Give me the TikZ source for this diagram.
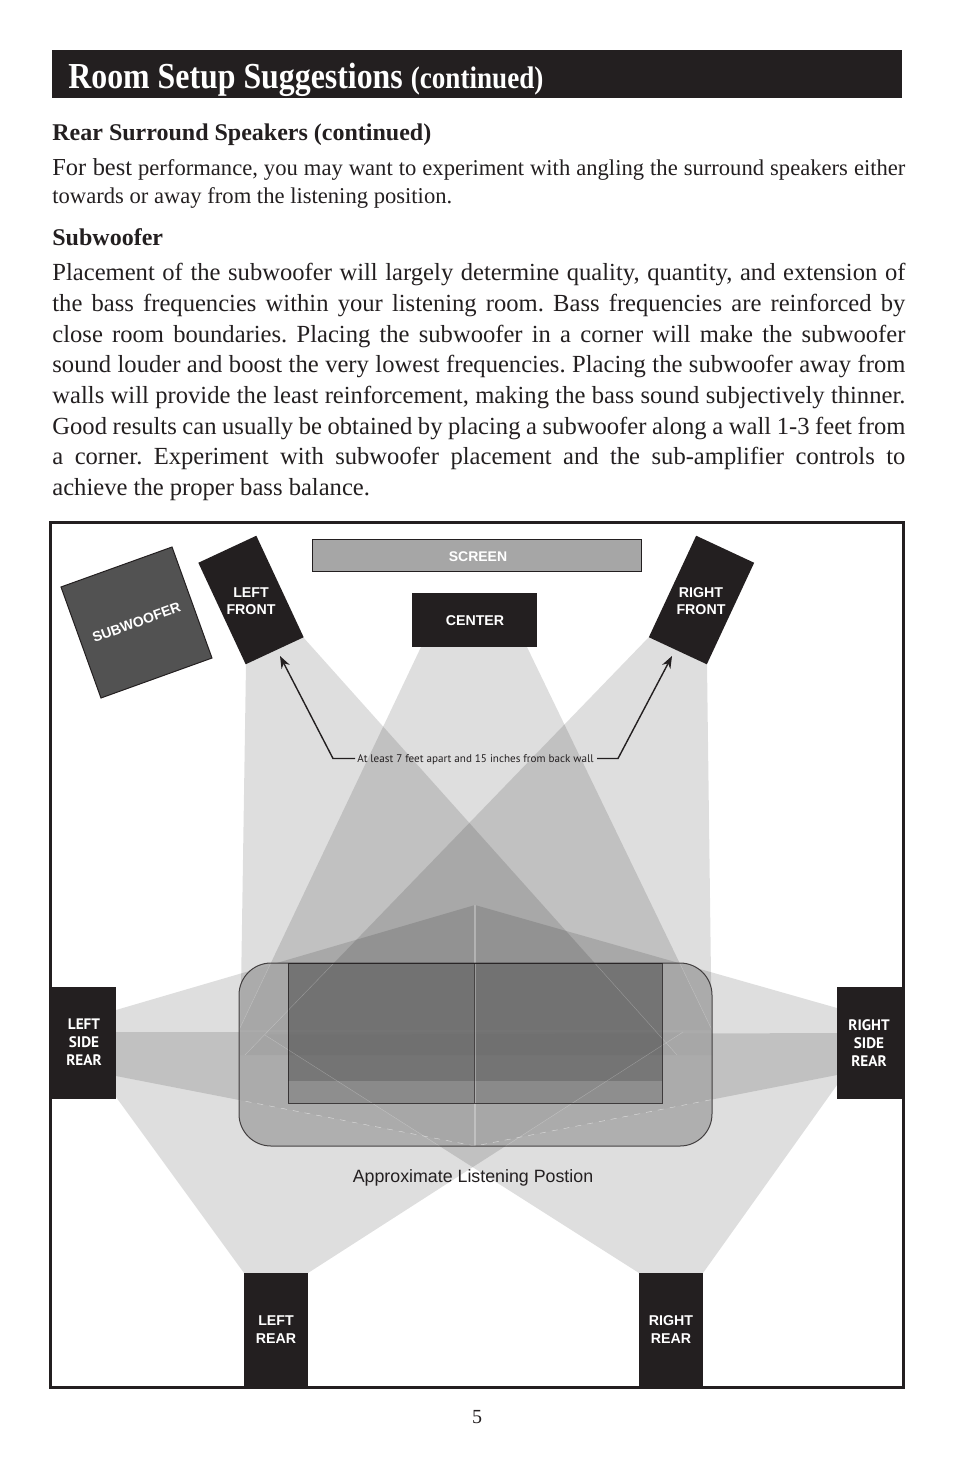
\documentclass[tikz,border=0pt]{standalone}
\usepackage{fontspec}
\setmainfont{Liberation Serif}
\setsansfont{Liberation Sans}
\newfontfamily\headfont[FakeStretch=0.87]{Liberation Serif}
\newfontfamily\notefont{PT Sans}
\definecolor{panel}{HTML}{231F20}
\definecolor{couch}{HTML}{A7A7A7}
\usetikzlibrary{positioning,arrows.meta}

\begin{document}
\frenchspacing
\begin{tikzpicture}[x=0.5pt, y=-0.5pt, >=Stealth,
		speaker/.style={fill=panel, inner sep=0pt},
		tag/.style={text=white, font=\sffamily\bfseries\fontsize{7.1}{8.6}\selectfont, align=center, inner sep=0pt},
		sidetag/.style={text=white, font=\notefont\bfseries\fontsize{7.6}{9}\selectfont, align=center, inner sep=0pt},
		beam/.style={fill=black, fill opacity=0.13},
		seam/.style={white, line width=0.2pt, opacity=0.28},
		copy/.style={anchor=north west, inner sep=0pt, text width=426.5pt, align=justify, text=panel}]
	\useasboundingbox (0,0) rectangle (954,1457);

	\fill[panel] (52,50) rectangle (902,98);
	\node[anchor=base west, inner sep=0pt, text=white, font=\headfont\bfseries\fontsize{18.3}{20}\selectfont] (title) at (68,88) {Room Setup Suggestions \fontsize{15.6}{16}\selectfont (continued)};

	\node[anchor=base west, inner sep=0pt, text=panel, font=\bfseries\fontsize{12}{13}\selectfont] (reartitle) at (52,140.5) {Rear Surround Speakers (continued)};
	\node[copy, font=\fontsize{11.3}{14}\selectfont] (reartext) at (52,158) {{\fontsize{12.2}{14}\selectfont For best} performance, you may want to experiment with angling the surround speakers either\linebreak towards or away from the listening position.};
	\node[anchor=base west, inner sep=0pt, text=panel, font=\bfseries\fontsize{12}{13}\selectfont] (subtitle) at (52,245.5) {Subwoofer};
	\node[copy, font=\fontsize{12.3}{15.35}\selectfont] (subtext) at (52,263) {Placement of the subwoofer will largely determine quality, quantity, and extension of\linebreak
		the bass frequencies within your listening room. Bass frequencies are reinforced by\linebreak
		close room boundaries. Placing the subwoofer in a corner will make the subwoofer\linebreak
		sound louder and boost the very lowest frequencies. Placing the subwoofer away from\linebreak
		walls will provide the least reinforcement, making the bass sound subjectively thinner.\linebreak
		Good results can usually be obtained by placing a subwoofer along a wall 1-3 feet from\linebreak
		a corner. Experiment with subwoofer placement and the sub-amplifier controls to\linebreak
		achieve the proper bass balance.};

	\fill[beam] (246,664) -- (303,637) -- (677,1055) -- (240,1055) -- cycle;
	\fill[beam] (649,637) -- (707,664) -- (712,1055) -- (245,1055) -- cycle;
	\fill[beam] (421,647) -- (527,647) -- (712,1030) -- (239,1030) -- cycle;
	\fill[beam] (116,1010) -- (475,905) -- (475,1146) -- (116,1076) -- cycle;
	\fill[beam] (837,1008) -- (475,905) -- (475,1146) -- (837,1075) -- cycle;
	\fill[beam] (244,1273) -- (308,1273) -- (683,1032) -- (116,1032) -- (116,1097) -- cycle;
	\fill[beam] (639,1273) -- (703,1273) -- (837,1085) -- (837,1033) -- (265,1035) -- cycle;

	\fill[couch, opacity=0.85, rounded corners=16pt] (239,963) rectangle (712,1146);
	\fill[black, opacity=0.3] (288,963) rectangle (662,1081);
	\fill[black, opacity=0.17] (288,1081) rectangle (662,1103);
	\begin{scope}
		\clip[rounded corners=16pt] (239,963) rectangle (712,1146);
		\draw[seam] (421,647) -- (239,1030);
		\draw[seam] (527,647) -- (712,1030);
		\draw[seam] (649,637) -- (245,1055);
		\draw[seam] (303,637) -- (677,1055);
		\draw[seam] (308,1273) -- (683,1032);
		\draw[seam] (639,1273) -- (265,1035);
		\draw[seam, dashed, opacity=0.6] (116,1076) -- (475,1146) -- (837,1075);
	\end{scope}
	\draw[seam, line width=0.6pt, opacity=0.3] (475,905) -- (475,1146);
	\draw[panel, line width=0.5pt, draw opacity=0.8, rounded corners=16pt] (239,963) rectangle (712,1146);
	\draw[panel, line width=0.45pt, draw opacity=0.8] (288,963) rectangle (662,1103);
	\draw[panel, line width=0.5pt, draw opacity=0.7] (474.5,963) -- (474.5,1103);

	\node[draw=panel, line width=0.5pt, fill=black!35, minimum width=164.5pt, minimum height=16pt, inner sep=0pt] (screen) at (476.5,555) {};
	\node[text=white, inner sep=0pt, font=\sffamily\bfseries\fontsize{7}{8}\selectfont] (screentag) at (478,556.5) {SCREEN};
	\node[speaker, minimum width=62.5pt, minimum height=27pt] (center) at (474.5,620) {};
	\node[tag] (centertag) at (475,620.5) {CENTER};
	\node[draw=panel, line width=0.5pt, fill=black!68!white, minimum width=59pt, minimum height=59pt, inner sep=0pt, rotate=19.8, text=white, font=\sffamily\bfseries\fontsize{7}{8}\selectfont] (subwoofer) at (136.5,622.5) {SUBWOOFER};
	\node[speaker, minimum width=32pt, minimum height=56pt, rotate=25] (leftfront) at (251,600) {};
	\node[speaker, minimum width=32pt, minimum height=56pt, rotate=-25] (rightfront) at (701.5,600) {};
	\node[tag] (leftfronttag) at (251,601) {LEFT\\FRONT};
	\node[tag] (rightfronttag) at (701,601) {RIGHT\\FRONT};
	\node[speaker, minimum width=32pt, minimum height=56pt] (leftside) at (84,1043) {};
	\node[sidetag] (leftsidetag) at (84,1042) {LEFT\\SIDE\\REAR};
	\node[speaker, minimum width=33pt, minimum height=56pt] (rightside) at (870,1043) {};
	\node[sidetag] (rightsidetag) at (869,1043) {RIGHT\\SIDE\\REAR};
	\node[speaker, tag, minimum width=32pt, minimum height=56.5pt] (leftrear) at (276,1329.5) {LEFT\\REAR};
	\node[speaker, tag, minimum width=32pt, minimum height=56.5pt] (rightrear) at (671,1329.5) {RIGHT\\REAR};

	\node[inner sep=0pt, text=panel, font=\notefont\fontsize{5.55}{6}\selectfont] (note) at (475.5,760) {At least 7 feet apart and 15 inches from back wall};
	\coordinate (leftstart) at (355,758.5);
	\coordinate (rightstart) at (597,758.5);
	\coordinate (leftbend) at (333,758.5);
	\coordinate (rightbend) at (618,758.5);
	\coordinate (lefttip) at (280,656);
	\coordinate (righttip) at (672,656);
	\draw[->, panel, line width=0.7pt] (leftstart) -- (leftbend) -- (lefttip);
	\draw[->, panel, line width=0.7pt] (rightstart) -- (rightbend) -- (righttip);

	\node[inner sep=0pt, text=panel, font=\sffamily\fontsize{8.9}{10}\selectfont] (listening) at (473,1177.5) {Approximate Listening Postion};
	\draw[panel, line width=1.5pt] (50,522) rectangle (903,1387);
	\node[inner sep=0pt, text=panel, font=\fontsize{10}{12}\selectfont] (pagenum) at (477,1417) {5};
\end{tikzpicture}
\end{document}
